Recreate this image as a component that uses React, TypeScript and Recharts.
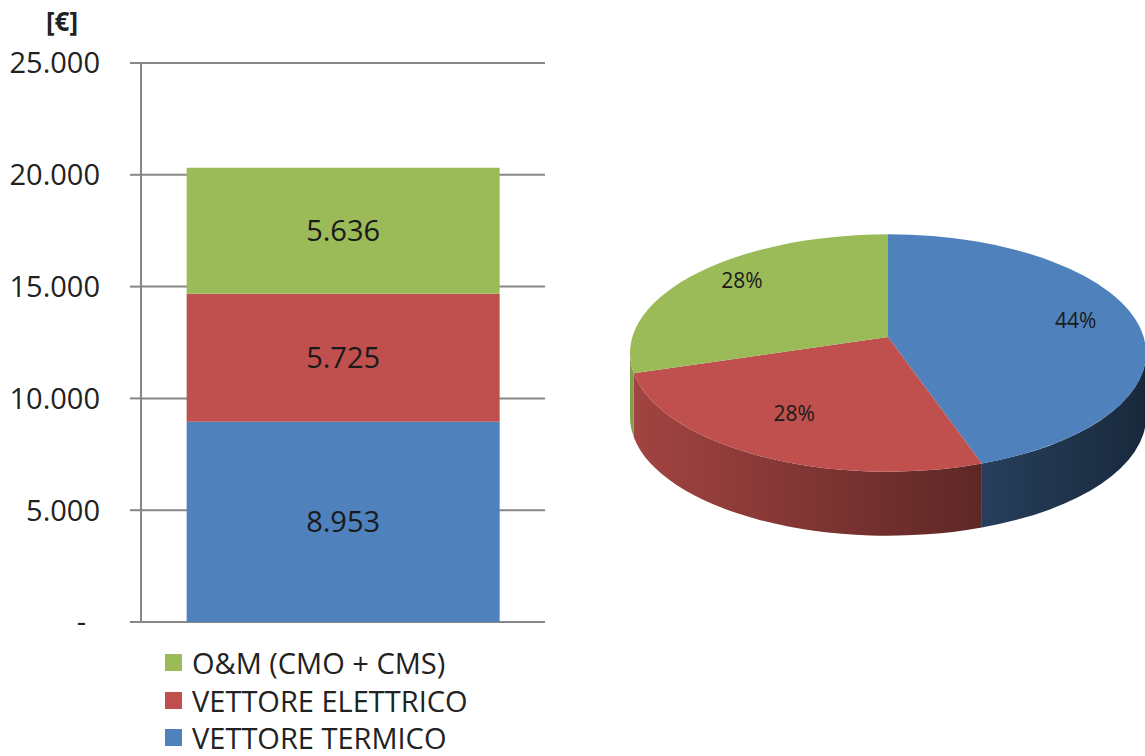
import React from "react";
import {
  Bar,
  BarChart,
  CartesianGrid,
  LabelList,
  Pie,
  PieChart,
  XAxis,
  YAxis
} from "recharts";

const categories = ["Costi annui"];
const vettoreTermico = [8953];
const vettoreElettrico = [5725];
const omCosts = [5636];
const yTicks = [0, 5000, 10000, 15000, 20000, 25000];

const seriesNames = ["VETTORE TERMICO", "VETTORE ELETTRICO", "O&M (CMO + CMS)"];
const seriesColors = ["#4F81BD", "#C0504D", "#9BBB59"];

const barData = categories.map((name, i) => ({
  name,
  termico: vettoreTermico[i],
  elettrico: vettoreElettrico[i],
  om: omCosts[i],
}));

const pieData = seriesNames.map((name, i) => ({
  name,
  value: [vettoreTermico[0], vettoreElettrico[0], omCosts[0]][i],
}));

const GRID = "#868686";
const FONT = '"Open Sans", sans-serif';

const fmt = (v: number) =>
  v === 0 ? "-" : String(Math.round(v)).replace(/\B(?=(\d{3})+(?!\d))/g, ".");

const YTick = (props: any) => {
  const { x, y, payload } = props;
  const zero = payload.value === 0;
  return (
    <text
      x={zero ? x - 14 : x}
      y={y}
      dy="0.36em"
      textAnchor="end"
      fontSize={29}
      fontFamily={FONT}
      fill="#222"
    >
      {fmt(payload.value)}
    </text>
  );
};

// fake 3d: squash the pie into an ellipse and add a side wall
const SQUASH = 0.46;
const DEPTH = 64;
const APEX_LIFT = 16;

const shade = (hex: string, k: number) => {
  const n = parseInt(hex.slice(1), 16);
  const r = Math.round(((n >> 16) & 255) * k);
  const g = Math.round(((n >> 8) & 255) * k);
  const b = Math.round((n & 255) * k);
  return `rgb(${r},${g},${b})`;
};

const renderSlice = (props: any) => {
  const { cx, cy, outerRadius, startAngle, endAngle, index, percent } = props;
  const rx = outerRadius;
  const ry = outerRadius * SQUASH;
  const pt = (deg: number, drop = 0) => {
    const r = (deg * Math.PI) / 180;
    return [cx + rx * Math.cos(r), cy - ry * Math.sin(r) + drop];
  };
  const a0 = Math.max(startAngle, endAngle);
  const a1 = Math.min(startAngle, endAngle);
  const ax = cx;
  const ay = cy - APEX_LIFT;
  const s = pt(a0);
  const e = pt(a1);
  const large = a0 - a1 > 180 ? 1 : 0;
  const top = `M${ax},${ay}L${s[0]},${s[1]}A${rx},${ry} 0 ${large} 1 ${e[0]},${e[1]}Z`;

  const hi = Math.min(a0, 0);
  const lo = Math.max(a1, -180);
  let side = "";
  if (hi > lo) {
    const p1 = pt(hi);
    const p2 = pt(lo);
    const q2 = pt(lo, DEPTH);
    const q1 = pt(hi, DEPTH);
    side = `M${p1[0]},${p1[1]}A${rx},${ry} 0 0 1 ${p2[0]},${p2[1]}L${q2[0]},${q2[1]}A${rx},${ry} 0 0 0 ${q1[0]},${q1[1]}Z`;
  }
  const color = seriesColors[index];
  const gid = `side-grad-${index}`;
  const mid = (((a0 + a1) / 2) * Math.PI) / 180;
  const lx = ax + 0.74 * rx * Math.cos(mid);
  const ly = ay - 0.74 * ry * Math.sin(mid);

  return (
    <g key={`slice-${index}`}>
      <defs>
        <linearGradient
          id={gid}
          gradientUnits="userSpaceOnUse"
          x1={cx - rx}
          x2={cx + rx}
          y1={0}
          y2={0}
        >
          <stop offset="0" stopColor={shade(color, 0.85)} />
          <stop offset="1" stopColor={shade(color, 0.32)} />
        </linearGradient>
      </defs>
      {side && <path d={side} fill={`url(#${gid})`} stroke="none" />}
      <path d={top} fill={color} stroke="none" />
      <text
        x={lx}
        y={ly}
        dy="0.36em"
        textAnchor="middle"
        fontSize={21}
        fontFamily={FONT}
        fill="#1a1a1a"
      >
        {`${Math.round(percent * 100)}%`}
      </text>
    </g>
  );
};

const legendOrder = [2, 1, 0];

const App: React.FC = () => {
  return (
    <div
      style={{
        position: "absolute",
        left: 0,
        top: 0,
        width: 1145,
        height: 756,
        background: "#fff",
        fontFamily: FONT,
      }}
    >
      <div
        style={{
          position: "absolute",
          left: 46,
          top: 8,
          fontSize: 26,
          fontWeight: 700,
          lineHeight: 1,
          color: "#222",
        }}
      >
        [€]
      </div>

      <div style={{ position: "absolute", left: 0, top: 0 }}>
        <BarChart
          width={560}
          height={640}
          data={barData}
          margin={{ top: 63, right: 15, bottom: 18, left: 0 }}
          barCategoryGap="11.3%"
        >
          <CartesianGrid
            horizontal
            vertical={false}
            stroke={GRID}
            strokeWidth={2}
          />
          <XAxis dataKey="name" hide />
          <YAxis
            width={141}
            domain={[0, 25000]}
            ticks={yTicks}
            interval={0}
            tick={<YTick />}
            tickSize={11}
            tickMargin={30}
            tickLine={{ stroke: GRID, strokeWidth: 2 }}
            axisLine={{ stroke: GRID, strokeWidth: 2 }}
          />
          <YAxis
            yAxisId="right"
            orientation="right"
            width={0}
            domain={[0, 25000]}
            tick={false}
            tickLine={false}
            axisLine={{ stroke: GRID, strokeWidth: 2 }}
          />
          <Bar dataKey="termico" stackId="a" fill={seriesColors[0]} isAnimationActive={false}>
            <LabelList dataKey="termico" position="center" formatter={(v: any) => fmt(Number(v))} fill="#1a1a1a" fontSize={29} fontFamily={FONT} />
          </Bar>
          <Bar dataKey="elettrico" stackId="a" fill={seriesColors[1]} isAnimationActive={false}>
            <LabelList dataKey="elettrico" position="center" formatter={(v: any) => fmt(Number(v))} fill="#1a1a1a" fontSize={29} fontFamily={FONT} />
          </Bar>
          <Bar dataKey="om" stackId="a" fill={seriesColors[2]} isAnimationActive={false}>
            <LabelList dataKey="om" position="center" formatter={(v: any) => fmt(Number(v))} fill="#1a1a1a" fontSize={29} fontFamily={FONT} />
          </Bar>
        </BarChart>
      </div>

      <div style={{ position: "absolute", left: 165, top: 644 }}>
        {legendOrder.map((i) => (
          <div
            key={seriesNames[i]}
            style={{
              display: "flex",
              alignItems: "center",
              height: 37.5,
              fontSize: 29,
              color: "#222",
              whiteSpace: "nowrap",
            }}
          >
            <span
              style={{
                display: "inline-block",
                width: 17,
                height: 17,
                background: seriesColors[i],
                marginRight: 10,
              }}
            />
            {seriesNames[i]}
          </div>
        ))}
      </div>

      <div style={{ position: "absolute", left: 600, top: 180 }}>
        <PieChart width={545} height={420} margin={{ top: 0, right: 0, bottom: 0, left: 0 }}>
          <Pie
            data={pieData}
            dataKey="value"
            nameKey="name"
            cx={288}
            cy={173}
            outerRadius={258}
            startAngle={90}
            endAngle={-270}
            fill="none"
            stroke="none"
            isAnimationActive={false}
            label={renderSlice}
            labelLine={false}
          />
        </PieChart>
      </div>
    </div>
  );
};

export default App;
